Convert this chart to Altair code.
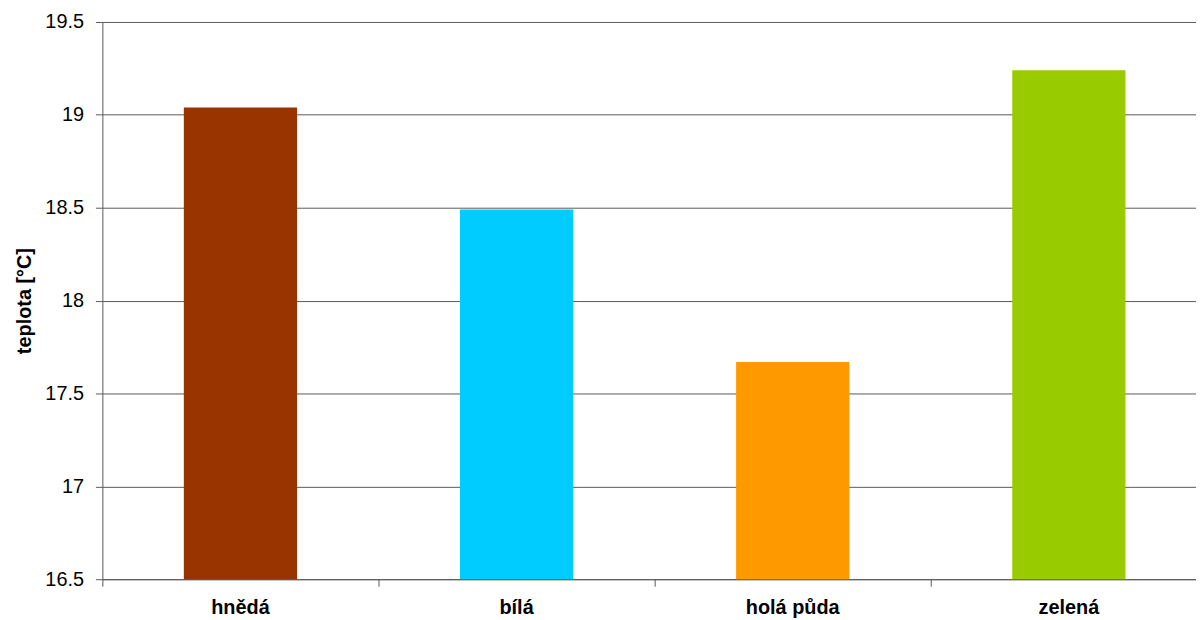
import altair as alt
import pandas as pd

categories = ["hnědá", "bílá", "holá půda", "zelená"]
values = [19.04, 18.49, 17.67, 19.24]
colors = ["#993300", "#00CCFF", "#FF9900", "#99CC00"]
y_ticks = [16.5, 17, 17.5, 18, 18.5, 19, 19.5]

df = pd.DataFrame({"kategorie": categories, "teplota": values})

FONT = "Liberation Sans"
LINE = "#595959"

chart = alt.Chart(df).mark_bar(width=alt.RelativeBandSize(0.41), clip=True).encode(
    x=alt.X(
        "kategorie:N",
        sort=categories,
        scale=alt.Scale(range=[0, 1112], paddingInner=0, paddingOuter=0),
        axis=alt.Axis(
            title=None,
            labelAngle=0,
            labelFont=FONT,
            labelFontSize=20,
            labelFontWeight="bold",
            labelColor="#000000",
            labelPadding=12,
            bandPosition=0,
            tickSize=7,
            tickColor=LINE,
            domainColor=LINE,
            grid=False,
        ),
    ),
    y=alt.Y(
        "teplota:Q",
        scale=alt.Scale(domain=[16.5, 19.5], nice=False, zero=False),
        axis=alt.Axis(
            title="teplota [°C]",
            values=y_ticks,
            format="~g",
            labelFont=FONT,
            labelFontSize=20,
            labelColor="#000000",
            labelPadding=12,
            tickSize=7,
            tickColor=LINE,
            domainColor=LINE,
            gridColor=LINE,
            gridOpacity=1,
            titleFont=FONT,
            titleFontSize=20,
            titleFontWeight="bold",
            titleColor="#000000",
            titlePadding=10,
        ),
    ),
    color=alt.Color(
        "kategorie:N",
        scale=alt.Scale(domain=categories, range=colors),
        legend=None,
    ),
).properties(
    width=1101,
    height=561,
    autosize="none",
    padding={"left": 95, "top": 12, "right": 0, "bottom": 39},
).configure_view(strokeWidth=0)

chart.save("out.html", embed_options={"renderer": "svg", "actions": False})
